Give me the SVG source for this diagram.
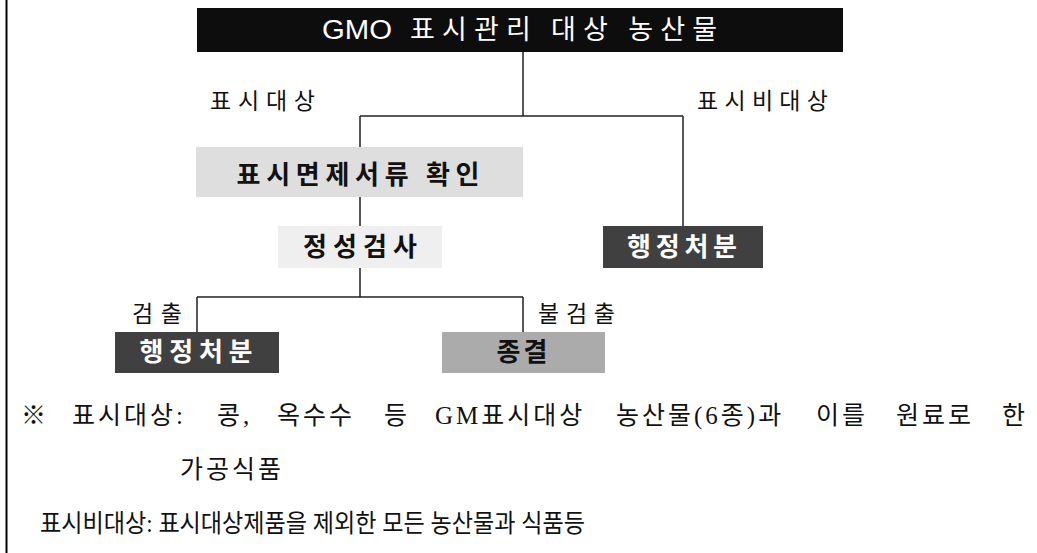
<svg xmlns="http://www.w3.org/2000/svg" width="1037" height="553" viewBox="0 0 1037 553">
<style>
.k{font-family:"Noto Sans CJK KR","Noto Sans",sans-serif}
.s{font-family:"Liberation Serif","Noto Sans CJK KR",serif;font-size:25px;fill:#111}
.sp{letter-spacing:3px}
.b{font-weight:bold;font-size:26px}
.lab{font-size:23px;fill:#111}
.ln{stroke:#222;stroke-width:1.5;fill:none}
</style>
<rect width="1037" height="553" fill="#fff"/>
<line x1="6.5" y1="0" x2="6.5" y2="553" stroke="#000" stroke-width="2"/>
<g id="connectors">
<path class="ln" d="M523,52V116M360,116H683M360,116V226M683,116V226M360,268V297M197,297H523M197,297V332M523,297V332"/>
</g>
<g id="n-title">
<rect x="197" y="8" width="646" height="44" fill="#0d0d0d"/>
<text x="322" y="39" font-family="Liberation Sans, Arial, sans-serif" font-size="27" fill="#fff" textLength="70" lengthAdjust="spacingAndGlyphs">GMO</text>
<text class="k" x="410" y="39" font-size="27" fill="#fff" textLength="307" lengthAdjust="spacing">표시관리 대상 농산물</text>
</g>
<g id="n-exempt">
<rect x="196" y="147" width="327" height="50" fill="#dedede"/>
<text class="k b" x="358" y="184" text-anchor="middle" textLength="243" lengthAdjust="spacing" fill="#111">표시면제서류 확인</text>
</g>
<g id="n-test">
<rect x="278" y="226" width="164" height="42" fill="#efefef"/>
<text class="k b" x="360" y="256" text-anchor="middle" textLength="114" lengthAdjust="spacing" fill="#111">정성검사</text>
</g>
<g id="n-admin-right">
<rect x="603" y="226" width="160" height="42" fill="#404040"/>
<text class="k b" x="682" y="256" text-anchor="middle" textLength="110" lengthAdjust="spacing" fill="#fff">행정처분</text>
</g>
<g id="n-admin-left">
<rect x="115" y="332" width="164" height="41" fill="#404040"/>
<text class="k b" x="196" y="361" text-anchor="middle" textLength="113" lengthAdjust="spacing" fill="#fff">행정처분</text>
</g>
<g id="n-end">
<rect x="442" y="332" width="163" height="41" fill="#ababab"/>
<text class="k b" x="522" y="361" text-anchor="middle" textLength="51" lengthAdjust="spacing" fill="#111">종결</text>
</g>
<g id="labels">
<text class="k lab" x="210" y="109" textLength="105" lengthAdjust="spacing">표시대상</text>
<text class="k lab" x="697" y="109" textLength="131" lengthAdjust="spacing">표시비대상</text>
<text class="k lab" x="132" y="322" textLength="50" lengthAdjust="spacing">검출</text>
<text class="k lab" x="538" y="322" textLength="77" lengthAdjust="spacing">불검출</text>
</g>
<g id="note">
<text class="s sp" y="424"><tspan x="21">※</tspan> <tspan x="72">표시대상:</tspan> <tspan x="217">콩,</tspan> <tspan x="277">옥수수</tspan> <tspan x="384">등</tspan> <tspan x="435">GM표시대상</tspan> <tspan x="616">농산물(6종)과</tspan> <tspan x="816">이를</tspan> <tspan x="896">원료로</tspan> <tspan x="1002">한</tspan></text>
<text class="s sp" x="180" y="478">가공식품</text>
<text class="s" x="40" y="532" textLength="545" lengthAdjust="spacingAndGlyphs">표시비대상: 표시대상제품을 제외한 모든 농산물과 식품등</text>
</g>
</svg>
